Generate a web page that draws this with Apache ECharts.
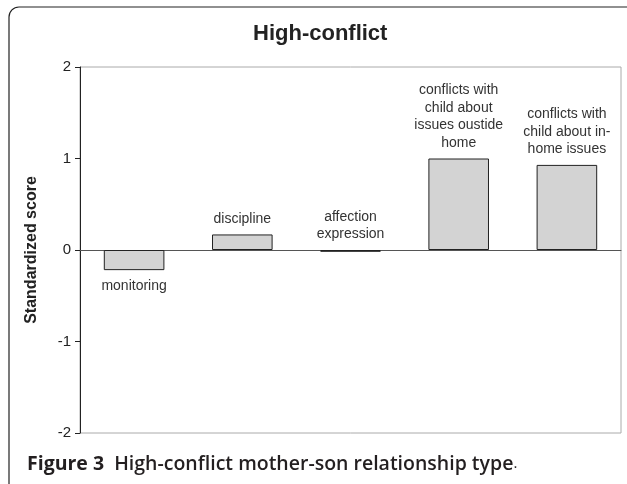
<!DOCTYPE html>
<html>
<head>
<meta charset="utf-8">
<script src="https://cdn.jsdelivr.net/npm/echarts@6/dist/echarts.min.js"></script>
<style>
html, body { margin: 0; padding: 0; background: #fff; overflow: hidden; }
#main { width: 627px; height: 484px; }
</style>
</head>
<body>
<div id="main"></div>
<script>
// categories + values
var categories = ['monitoring', 'discipline', 'affection\nexpression',
	'conflicts with\nchild about\nissues oustide\nhome', 'conflicts with\nchild about in-\nhome issues'];
var scores = [-0.22, 0.17, -0.02, 1.0, 0.93];
var labelSide = ['bottom', 'top', 'top', 'top', 'top'];
var yTicks = [-2, -1, 0, 1, 2];

var myChart = echarts.init(document.getElementById('main'));

var barData = [];
for (var i = 0; i < scores.length; i++) {
	barData.push({ value: scores[i], label: { position: labelSide[i] } });
}

var option = {
	animation: false,
	title: {
		text: 'High-conflict',
		left: 248,
		top: 18,
		textStyle: { fontFamily: 'Liberation Sans, Arial', fontSize: 22, fontWeight: 'bold', color: '#222' }
	},
	grid: {
		left: 80, right: 6, top: 67, bottom: 51,
		show: true, borderColor: '#aaa', borderWidth: 1
	},
	xAxis: {
		type: 'category',
		data: categories,
		axisLine: { onZero: true, lineStyle: { color: '#555', width: 1 } },
		axisTick: { show: false },
		axisLabel: { show: false }
	},
	yAxis: {
		type: 'value',
		min: -2, max: 2, interval: 1,
		name: 'Standardized score',
		nameLocation: 'middle',
		nameGap: 40,
		nameTextStyle: { fontFamily: 'Liberation Sans, Arial', fontSize: 16, fontWeight: 'bold', color: '#222' },
		axisLine: { show: true, lineStyle: { color: '#222' } },
		axisTick: { show: true, length: 5, lineStyle: { color: '#222' } },
		axisLabel: {
			fontFamily: 'Liberation Sans, Arial', fontSize: 15, color: '#222', margin: 9,
			formatter: function(v) { return yTicks.indexOf(v) >= 0 ? String(v) : ''; }
		},
		splitLine: { show: false }
	},
	series: [{
		type: 'bar',
		data: barData,
		barWidth: '56%',
		itemStyle: { color: '#d3d3d3', borderColor: '#222', borderWidth: 1 },
		label: {
			show: true,
			distance: 7,
			fontFamily: 'Liberation Sans, Arial', fontSize: 14, lineHeight: 17.5, color: '#333',
			formatter: function(p) { return categories[p.dataIndex]; }
		}
	}],
	graphic: [
		{
			type: 'rect',
			shape: { x: 9, y: 7, width: 640, height: 500, r: 10 },
			style: { fill: 'none', stroke: '#222', lineWidth: 1.2 },
			silent: true
		},
		{
			type: 'text',
			left: 27, top: 454,
			style: {
				text: '{b|Figure 3}{b|  }{m|High-conflict mother-son relationship type}{p|.}',
				rich: {
					b: { fontFamily: 'Open Sans', fontSize: 19.5, fontWeight: 'bold', fill: '#231f20' },
					m: { fontFamily: 'Open Sans', fontSize: 19.5, fontWeight: 600, fill: '#231f20' },
					p: { fontFamily: 'Open Sans', fontSize: 15, fontWeight: 'normal', fill: '#231f20' }
				}
			}
		}
	]
};

myChart.setOption(option);
</script>
</body>
</html>
